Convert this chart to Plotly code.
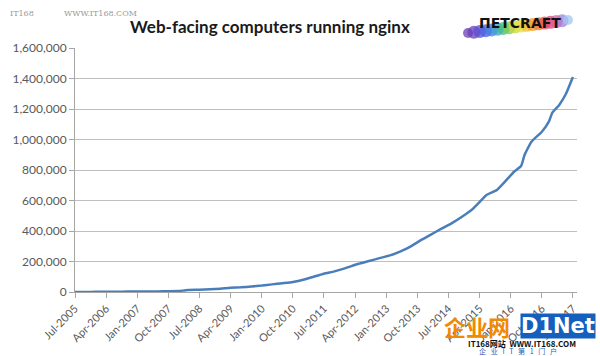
import plotly.graph_objects as go

months = [
    "2005-07", "2005-10", "2006-01", "2006-04", "2006-07", "2006-10", "2007-01", "2007-04",
    "2007-07", "2007-10", "2008-01", "2008-03", "2008-07", "2008-10", "2009-01", "2009-04",
    "2009-07", "2009-10", "2010-01", "2010-04", "2010-07", "2010-10", "2011-01", "2011-04",
    "2011-07", "2011-10", "2012-01", "2012-05", "2012-08", "2012-11", "2013-02", "2013-05",
    "2013-08", "2013-11", "2014-02", "2014-05", "2014-08", "2014-11", "2015-02", "2015-04",
    "2015-06", "2015-09", "2015-12", "2016-02", "2016-04", "2016-05", "2016-07", "2016-10",
    "2016-12", "2017-01", "2017-03", "2017-05", "2017-07",
]
computers = [
    0, 500, 1000, 1500, 2000, 2500, 3000, 3500,
    4000, 5000, 6000, 12000, 15000, 18000, 22000, 28000,
    31000, 36000, 42000, 50000, 58000, 66000, 80000, 100000,
    120000, 135000, 155000, 185000, 203000, 222000, 240000, 265000,
    298000, 340000, 378000, 415000, 452000, 495000, 545000, 590000,
    636000, 669000, 740000, 790000, 826000, 898000, 986000, 1051000,
    1117000, 1176000, 1225000, 1300000, 1410000,
]
y_ticks = [0, 200000, 400000, 600000, 800000, 1000000, 1200000, 1400000, 1600000]
title_text = "Web-facing computers running nginx"

dates = [m + "-01" for m in months]

# plot area in pixels
L, R, T, B = 75, 577, 48, 292
PW, PH = R - L, B - T


def px(x):
    return (x - L) / PW


def py(y):
    return (B - y) / PH


fig = go.Figure()
fig.add_trace(go.Scatter(
    x=dates, y=computers, mode="lines",
    line=dict(color="#4A7EBB", width=2.5, shape="spline", smoothing=0.4),
    hoverinfo="skip", showlegend=False,
))

font_family = "Lato, 'Open Sans', sans-serif"

# Netcraft brush-stroke logo (decorative)
brush_colors = ["#6A3DB8", "#6A3DB8", "#5A4FD0", "#4A5FE0", "#3F7FE0", "#3FA0D0",
                "#3FBF7F", "#7ACB50", "#C8D840", "#E8E040", "#F0C030", "#F09A30",
                "#F07A30", "#E85050", "#E04070", "#D860A0", "#A080D8", "#A0C8F0"]
shapes = []
n = len(brush_colors)
for i, c in enumerate(brush_colors):
    cx = 468 + i * (100 / (n - 1))
    cy = 33 - i * (13 / (n - 1))
    r = 6.5 if 0 < i < n - 1 else 5
    shapes.append(dict(type="circle", xref="paper", yref="paper",
                       x0=px(cx - r), x1=px(cx + r), y0=py(cy + r), y1=py(cy - r),
                       fillcolor=c, line=dict(width=0), layer="below", opacity=0.75))

fig.update_layout(
    width=600, height=356,
    margin=dict(l=L, r=600 - R, t=T, b=356 - B, autoexpand=False),
    paper_bgcolor="white", plot_bgcolor="white",
    font=dict(family=font_family, size=12, color="#595959"),
    xaxis=dict(
        type="date",
        range=["2005-07-01", "2017-08-06"],
        tick0="2005-07-01", dtick="M9", tickformat="%b-%Y",
        tickangle=-45, tickfont=dict(size=11, color="#595959"),
        showgrid=False, showline=True, linecolor="#A6A6A6", linewidth=1,
        ticks="outside", ticklen=5, tickcolor="#A6A6A6",
        zeroline=False, fixedrange=True,
    ),
    yaxis=dict(
        range=[0, 1600000], tickvals=y_ticks,
        tickformat=",d", tickfont=dict(size=12, color="#595959"),
        showgrid=True, gridcolor="#BFBFBF", gridwidth=1,
        showline=True, linecolor="#A6A6A6", linewidth=1,
        ticks="outside", ticklen=5, tickcolor="#A6A6A6",
        zeroline=False, fixedrange=True,
    ),
    annotations=[
        dict(text="<b>" + title_text + "</b>", xref="paper", yref="paper",
             x=px(270), y=py(26), xanchor="center", yanchor="middle",
             showarrow=False, font=dict(size=17, color="#1a1a1a", family=font_family)),
        dict(text="IT168", xref="paper", yref="paper",
             x=px(8), y=py(13), xanchor="left", yanchor="middle",
             showarrow=False, font=dict(size=8, color="#9a9a9a", family="DejaVu Serif")),
        dict(text="WWW.IT168.COM", xref="paper", yref="paper",
             x=px(62), y=py(13), xanchor="left", yanchor="middle",
             showarrow=False, font=dict(size=8, color="#9a9a9a", family="DejaVu Serif")),
        dict(text="<b>ПETCRAFT</b>", xref="paper", yref="paper",
             x=px(520), y=py(23), xanchor="center", yanchor="middle",
             showarrow=False, font=dict(size=14, color="#111111", family="DejaVu Sans")),
        dict(text="<b>企业网</b>", xref="paper", yref="paper",
             x=px(477), y=py(326), xanchor="center", yanchor="middle",
             showarrow=False, font=dict(size=22, color="#F08A00", family="Noto Sans CJK SC")),
        dict(text="<b>D1Net</b>", xref="paper", yref="paper",
             x=px(558), y=py(326), xanchor="center", yanchor="middle",
             showarrow=False, bgcolor="#1560BD", borderpad=0,
             font=dict(size=21, color="white", family="DejaVu Sans")),
        dict(text="<b>IT168网站  WWW.IT168.COM</b>", xref="paper", yref="paper",
             x=px(522), y=py(343), xanchor="center", yanchor="middle",
             showarrow=False, font=dict(size=8, color="#111111", family="Noto Sans CJK SC")),
        dict(text="企   业   I   T   第   1   门   户", xref="paper", yref="paper",
             x=px(518), y=py(351), xanchor="center", yanchor="middle",
             showarrow=False, font=dict(size=7, color="#1560BD", family="Noto Sans CJK SC")),
    ],
    shapes=shapes,
)

fig.write_html("out.html", config={"displayModeBar": False},
               post_script="document.body.style.margin='0';")
